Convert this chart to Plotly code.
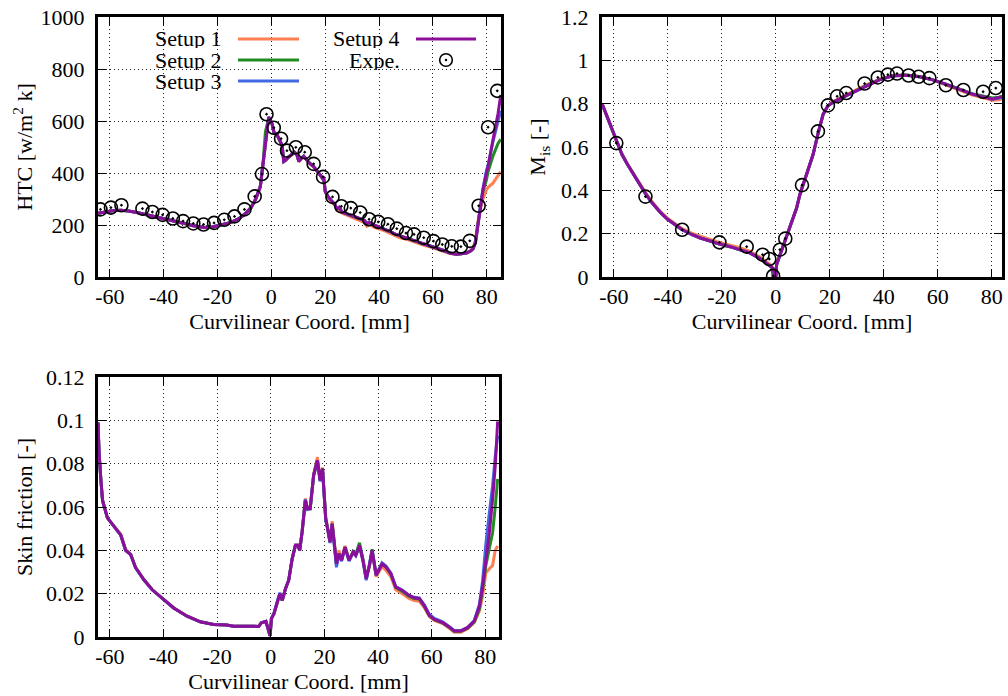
import plotly.graph_objects as go

# ---------------- data ----------------
x_ticks = [-60, -40, -20, 0, 20, 40, 60, 80]
x_ticktext = ["-60", "-40", "-20", "0", "20", "40", "60", "80"]
htc_ticks = [0, 200, 400, 600, 800, 1000]
mis_ticks = [0, 0.2, 0.4, 0.6, 0.8, 1.0, 1.2]
mis_ticktext = ["0", "0.2", "0.4", "0.6", "0.8", "1", "1.2"]
cf_ticks = [0, 0.02, 0.04, 0.06, 0.08, 0.1, 0.12]
cf_ticktext = ["0", "0.02", "0.04", "0.06", "0.08", "0.1", "0.12"]

setup_names = ["Setup 1", "Setup 2", "Setup 3", "Setup 4"]
setup_colors = ["#ff7f50", "#228b22", "#4169e1", "#8b0f9b"]

# HTC [W/m2 K]
htc_x = [-64.4, -62, -59, -56, -53, -50, -47, -44, -40.5, -37, -33, -29.4, -25, -22, -20,
         -17, -15, -12, -9.6, -7.5, -5.9, -4.1, -3, -2.2, -1.0, 0.25, 1, 2.1, 3.3, 4.0,
         4.6, 5.3, 6.4, 7.7, 8.6, 9.5, 10.2, 11.0, 12.0, 13.2, 14.0, 15.7, 17.0, 18.1, 19.0,
         19.4, 20.0, 21.0, 22.5, 23.5, 24.3, 25.2, 26.2, 27.5, 29.3, 31, 33, 34.5, 35.5, 36.5,
         38, 40.4, 42, 44.1, 46, 47.8, 50, 51.5, 53, 55.2, 57, 58.9, 61, 62.6, 64.5,
         66.3, 68.8, 70.5, 72.4, 74, 74.9, 75.8, 76.5, 77.4, 78.6, 79.9, 80.5, 82.3, 84.2, 85.2]
htc_s1 = [245, 250, 255, 257, 254, 248, 241, 234, 227, 218, 207, 197, 189, 191, 196,
          202, 209, 224, 243, 267, 297, 347, 440, 525, 612, 588, 553, 546, 518, 503,
          443, 448, 460, 470, 478, 468, 443, 453, 463, 448, 438, 423, 408, 391, 378,
          383, 328, 306, 287, 276, 258, 262, 246, 240, 230, 224, 216, 210, 195, 202,
          192, 183, 178, 168, 158, 151, 146, 140, 134, 127, 121, 116, 109, 104, 97,
          90, 87, 88, 92, 101, 112, 140, 200, 250, 300, 336, 345, 361, 393, 405]
htc_s2 = [245, 250, 255, 257, 254, 248, 241, 234, 228, 219, 208, 198, 190, 192, 197,
          203, 210, 225, 244, 268, 298, 350, 450, 560, 610, 590, 555, 548, 520, 505,
          445, 450, 462, 472, 480, 470, 445, 455, 465, 450, 440, 425, 410, 393, 380,
          385, 330, 310, 291, 280, 262, 268, 250, 245, 236, 230, 222, 218, 205, 210,
          200, 191, 185, 175, 165, 158, 152, 146, 140, 132, 126, 120, 113, 107, 100,
          92, 88, 89, 92, 100, 108, 135, 190, 250, 330, 374, 405, 465, 514, 530]
htc_s3 = [245, 250, 255, 257, 254, 248, 241, 234, 228, 219, 208, 198, 190, 192, 197,
          203, 210, 225, 244, 268, 298, 348, 440, 527, 616, 590, 555, 548, 520, 505,
          445, 450, 462, 472, 480, 470, 445, 455, 465, 450, 440, 425, 410, 393, 380,
          385, 330, 310, 291, 280, 262, 268, 250, 245, 236, 230, 222, 218, 205, 210,
          200, 191, 185, 175, 165, 158, 152, 146, 140, 132, 126, 120, 113, 107, 100,
          92, 88, 89, 92, 100, 108, 132, 185, 250, 340, 410, 430, 520, 600, 640]
htc_s4 = [245, 250, 255, 257, 254, 248, 241, 234, 228, 219, 208, 198, 190, 192, 197,
          203, 210, 225, 244, 268, 298, 348, 440, 527, 616, 590, 555, 548, 520, 505,
          445, 450, 462, 472, 480, 470, 445, 455, 465, 450, 440, 425, 410, 393, 380,
          385, 330, 310, 291, 280, 262, 268, 250, 245, 236, 230, 222, 218, 205, 210,
          200, 191, 185, 175, 165, 158, 152, 146, 140, 132, 126, 120, 113, 107, 100,
          92, 88, 89, 92, 100, 108, 130, 180, 247, 336, 400, 425, 527, 629, 700]
htc_exp_x = [-63.5, -59.6, -55.7, -47.9, -44.2, -40.4, -36.6, -32.8, -29.0, -25.2, -21.3,
             -17.5, -13.7, -10.0, -6.2, -3.5, -1.8, 0.9, 3.6, 5.8, 9.1, 12.4, 15.7, 19.2,
             22.7, 26.0, 29.5, 33.0, 36.3, 39.7, 43.3, 46.6, 50.0, 53.0, 56.6, 60.2, 63.5,
             67.0, 70.4, 73.7, 77.0, 80.5, 83.9]
htc_exp_y = [260, 267, 276, 263, 250, 239, 225, 215, 206, 202, 208, 220, 233, 260, 310, 396,
             626, 574, 532, 486, 499, 480, 435, 385, 308, 272, 265, 248, 222, 212, 203, 186,
             169, 164, 151, 138, 125, 118, 117, 139, 274, 576, 716]

# Isentropic Mach number
mis_x = [-64.4, -63, -61, -59.1, -57, -55, -52.6, -50, -48.3, -46, -42.8, -40, -37, -34.7,
         -31, -28, -24, -20.9, -17, -13.3, -10, -8.3, -6, -4.0, -2.8, -1.55, -1.0, -0.4,
         0.0, 0.3, 1.5, 2.7, 4.0, 5.2, 6.5, 7.7, 8.9, 9.7, 11.3, 12.5, 13.8, 15.6, 17.5,
         19.3, 21.2, 24.8, 28.6, 33.5, 38.4, 43.3, 48.2, 53.2, 58.1, 63, 67.9, 72.8,
         77.8, 80.2, 82.7, 83.8]
mis_s1 = [0.800, 0.757, 0.692, 0.628, 0.568, 0.523, 0.473, 0.424, 0.390, 0.350, 0.303,
          0.270, 0.243, 0.223, 0.201, 0.187, 0.172, 0.160, 0.148, 0.135, 0.121, 0.110,
          0.093, 0.075, 0.064, 0.052, 0.030, 0.0, 0.0, 0.058, 0.100, 0.142, 0.190, 0.234,
          0.276, 0.318, 0.380, 0.415, 0.470, 0.520, 0.565, 0.660, 0.752, 0.792, 0.810,
          0.833, 0.857, 0.887, 0.913, 0.930, 0.932, 0.925, 0.910, 0.888, 0.863, 0.840,
          0.824, 0.816, 0.818, 0.822]
mis_s2 = [0.800, 0.755, 0.690, 0.625, 0.565, 0.520, 0.470, 0.420, 0.385, 0.345, 0.298,
          0.265, 0.238, 0.218, 0.195, 0.180, 0.165, 0.152, 0.140, 0.127, 0.113, 0.102,
          0.086, 0.068, 0.058, 0.045, 0.0, 0.0, 0.0, 0.058, 0.100, 0.142, 0.190, 0.234,
          0.276, 0.318, 0.380, 0.412, 0.470, 0.520, 0.565, 0.660, 0.750, 0.790, 0.806,
          0.829, 0.853, 0.883, 0.911, 0.929, 0.932, 0.925, 0.911, 0.891, 0.868, 0.846,
          0.832, 0.826, 0.830, 0.834]
mis_s3 = [0.800, 0.755, 0.690, 0.625, 0.565, 0.520, 0.470, 0.420, 0.385, 0.345, 0.298,
          0.265, 0.238, 0.218, 0.195, 0.180, 0.165, 0.152, 0.140, 0.127, 0.113, 0.102,
          0.086, 0.068, 0.058, 0.048, 0.040, 0.0, 0.0, 0.058, 0.100, 0.142, 0.190, 0.234,
          0.276, 0.318, 0.380, 0.412, 0.470, 0.520, 0.565, 0.660, 0.750, 0.790, 0.806,
          0.829, 0.852, 0.882, 0.910, 0.928, 0.931, 0.924, 0.910, 0.890, 0.867, 0.844,
          0.829, 0.821, 0.826, 0.830]
mis_s4 = [0.800, 0.755, 0.690, 0.625, 0.565, 0.520, 0.470, 0.420, 0.385, 0.345, 0.298,
          0.265, 0.238, 0.218, 0.195, 0.180, 0.165, 0.152, 0.140, 0.127, 0.113, 0.102,
          0.086, 0.068, 0.058, 0.048, 0.040, 0.0, 0.0, 0.058, 0.100, 0.142, 0.190, 0.234,
          0.276, 0.318, 0.380, 0.412, 0.470, 0.520, 0.565, 0.660, 0.750, 0.790, 0.806,
          0.829, 0.852, 0.882, 0.910, 0.928, 0.931, 0.924, 0.910, 0.890, 0.867, 0.844,
          0.829, 0.821, 0.829, 0.833]
mis_exp_x = [-59.1, -48.3, -34.7, -20.9, -10.8, -4.9, -2.4, -1.0, 1.5, 3.5, 9.7, 15.6,
             19.3, 22.7, 26.1, 32.9, 37.8, 41.5, 44.9, 49.2, 52.9, 56.9, 63.0, 69.5,
             76.8, 81.5]
mis_exp_y = [0.618, 0.371, 0.218, 0.160, 0.140, 0.103, 0.083, 0.005, 0.126, 0.177, 0.424,
             0.672, 0.792, 0.834, 0.849, 0.893, 0.921, 0.934, 0.939, 0.930, 0.924, 0.918,
             0.885, 0.863, 0.855, 0.872]

# Skin friction
cf_x = [-64.4, -64.0, -63.3, -62.7, -60.9, -58.4, -55.9, -54.1, -52.2, -50.4, -47.3, -44.2,
        -39.9, -36.2, -31.2, -26.3, -21.3, -16.4, -13.9, -9.0, -4.5, -3.5, -1.8, -1.0,
        -0.25, 0.25, 1.2, 2.5, 3.4, 4.3, 5.5, 6.7, 8.0, 9.2, 10.1, 10.8, 11.7, 12.9, 13.7,
        14.7, 16.0, 17.4, 18.4, 19.3, 19.6, 20.5, 21.2, 22.1, 22.9, 23.9, 24.5, 25.4, 26.4,
        27.7, 29.2, 30.7, 31.7, 33.1, 34.4, 35.6, 36.8, 37.8, 39.3, 41.5, 43.0, 44.8,
        46.6, 49.1, 51.5, 53.5, 55.4, 57.3, 59.1, 61.0, 64.1, 66.6, 68.4, 70.9, 73.4,
        75.9, 77.8, 79.0, 80.2, 81.5, 82.7, 83.7, 84.6]
cf_s1 = [0.099, 0.085, 0.072, 0.063, 0.055, 0.0512, 0.0474, 0.0404, 0.0383, 0.0322, 0.0266,
         0.0219, 0.0174, 0.0135, 0.0097, 0.0071, 0.0058, 0.0055, 0.0050, 0.0049, 0.0049,
         0.0066, 0.0072, 0.0038, 0.0005, 0.0085, 0.0108, 0.0160, 0.0198, 0.0169, 0.0223,
         0.0262, 0.0362, 0.0423, 0.0425, 0.0402, 0.0487, 0.0640, 0.0595, 0.0594, 0.0752,
         0.0830, 0.0730, 0.0782, 0.0720, 0.0550, 0.0505, 0.0440, 0.0535, 0.0395, 0.0345,
         0.0400, 0.0358, 0.0420, 0.0356, 0.0390, 0.0378, 0.0418, 0.0352, 0.0268, 0.0325,
         0.0395, 0.0278, 0.0325, 0.0308, 0.0278, 0.0218, 0.0200, 0.0178, 0.0168, 0.0165,
         0.0135, 0.0095, 0.0077, 0.0062, 0.0040, 0.0022, 0.0022, 0.0038, 0.0068, 0.0120,
         0.0190, 0.0296, 0.0315, 0.0330, 0.0400, 0.0420]
cf_s2 = [0.099, 0.085, 0.072, 0.063, 0.055, 0.0508, 0.0470, 0.0400, 0.0380, 0.0320, 0.0264,
         0.0218, 0.0173, 0.0134, 0.0096, 0.0070, 0.0058, 0.0055, 0.0050, 0.0049, 0.0049,
         0.0066, 0.0072, 0.0038, 0.0005, 0.0085, 0.0108, 0.0162, 0.0200, 0.0169, 0.0223,
         0.0262, 0.0362, 0.0423, 0.0423, 0.0400, 0.0485, 0.0631, 0.0592, 0.0592, 0.0746,
         0.0815, 0.0723, 0.0777, 0.0715, 0.0546, 0.0500, 0.0438, 0.0523, 0.0392, 0.0338,
         0.0385, 0.0354, 0.0415, 0.0354, 0.0395, 0.0382, 0.0435, 0.0358, 0.0270, 0.0333,
         0.0405, 0.0287, 0.0338, 0.0322, 0.0290, 0.0228, 0.0210, 0.0188, 0.0178, 0.0175,
         0.0141, 0.0099, 0.0080, 0.0065, 0.0044, 0.0026, 0.0026, 0.0040, 0.0070, 0.0130,
         0.0220, 0.0330, 0.0410, 0.0480, 0.0600, 0.0730]
cf_s3 = [0.099, 0.085, 0.072, 0.063, 0.055, 0.0508, 0.0470, 0.0400, 0.0380, 0.0320, 0.0264,
         0.0218, 0.0173, 0.0134, 0.0096, 0.0070, 0.0058, 0.0055, 0.0050, 0.0049, 0.0049,
         0.0066, 0.0072, 0.0038, 0.0005, 0.0085, 0.0110, 0.0168, 0.0205, 0.0169, 0.0223,
         0.0262, 0.0362, 0.0423, 0.0423, 0.0400, 0.0485, 0.0635, 0.0588, 0.0592, 0.0746,
         0.0815, 0.0718, 0.0777, 0.0712, 0.0540, 0.0500, 0.0434, 0.0520, 0.0388, 0.0322,
         0.0380, 0.0350, 0.0412, 0.0350, 0.0390, 0.0375, 0.0420, 0.0350, 0.0262, 0.0330,
         0.0398, 0.0285, 0.0342, 0.0327, 0.0295, 0.0233, 0.0216, 0.0193, 0.0183, 0.0180,
         0.0147, 0.0105, 0.0086, 0.0070, 0.0048, 0.0030, 0.0030, 0.0045, 0.0076, 0.0150,
         0.0260, 0.0430, 0.0573, 0.0696, 0.0834, 0.0930]
cf_s4 = [0.099, 0.085, 0.072, 0.063, 0.055, 0.0508, 0.0470, 0.0400, 0.0380, 0.0320, 0.0264,
         0.0218, 0.0173, 0.0134, 0.0096, 0.0070, 0.0058, 0.0055, 0.0050, 0.0049, 0.0049,
         0.0066, 0.0072, 0.0038, 0.0005, 0.0085, 0.0108, 0.0162, 0.0200, 0.0169, 0.0223,
         0.0262, 0.0362, 0.0423, 0.0423, 0.0400, 0.0485, 0.0631, 0.0592, 0.0592, 0.0746,
         0.0815, 0.0723, 0.0777, 0.0715, 0.0546, 0.0500, 0.0438, 0.0523, 0.0392, 0.0338,
         0.0385, 0.0354, 0.0415, 0.0354, 0.0392, 0.0377, 0.0423, 0.0354, 0.0269, 0.0331,
         0.0400, 0.0285, 0.0338, 0.0323, 0.0292, 0.0231, 0.0215, 0.0192, 0.0181, 0.0177,
         0.0143, 0.0100, 0.0081, 0.0066, 0.0046, 0.0028, 0.0028, 0.0043, 0.0074, 0.0143,
         0.0235, 0.0358, 0.0480, 0.0634, 0.0788, 0.0995]

# ---------------- figure ----------------
W, H = 1008, 696
FONT = "Liberation Serif"
FS = 22
LW = 3


def px(x):
    return x / W


def py(y):
    return 1 - y / H


fig = go.Figure()

panels = [
    ("x", "y", htc_x, [htc_s1, htc_s2, htc_s3, htc_s4], htc_exp_x, htc_exp_y),
    ("x2", "y2", mis_x, [mis_s1, mis_s2, mis_s3, mis_s4], mis_exp_x, mis_exp_y),
    ("x3", "y3", cf_x, [cf_s1, cf_s2, cf_s3, cf_s4], None, None),
]
for xa, ya, xs, ys_list, ex, ey in panels:
    for name, col, ys in zip(setup_names, setup_colors, ys_list):
        fig.add_trace(go.Scatter(x=xs, y=ys, mode="lines", name=name, xaxis=xa, yaxis=ya,
                                 line=dict(color=col, width=LW), showlegend=False))
    if ex is not None:
        fig.add_trace(go.Scatter(x=ex, y=ey, mode="markers", name="Expe.", xaxis=xa, yaxis=ya,
                                 marker=dict(symbol="circle-open-dot", size=13, color="black",
                                             line=dict(width=1.6, color="black")),
                                 showlegend=False))

axis_common = dict(showline=True, linewidth=3, linecolor="black", mirror="ticks",
                   ticks="inside", ticklen=8, tickwidth=1.2, tickcolor="black",
                   showgrid=True, gridcolor="#222", gridwidth=1, griddash="1px,3px",
                   zeroline=False, automargin=False,
                   tickfont=dict(family=FONT, size=FS, color="black"))
xaxis_common = dict(axis_common, ticklabelstandoff=-2)
yaxis_common = dict(axis_common, ticklabelstandoff=6)
title_font = dict(family=FONT, size=FS, color="black")

fig.update_layout(
    template="none",
    width=W, height=H, margin=dict(l=0, r=0, t=0, b=0, pad=0),
    paper_bgcolor="white", plot_bgcolor="white",
    font=dict(family=FONT, size=FS, color="black"),
    xaxis=dict(xaxis_common, domain=[px(98), px(501)], anchor="y", range=[-64.4, 85.3],
               tickvals=x_ticks, ticktext=x_ticktext,
               title=dict(text="Curvilinear Coord. [mm]", font=title_font, standoff=4)),
    yaxis=dict(yaxis_common, domain=[py(277), py(17)], anchor="x", range=[0, 1000],
               tickvals=htc_ticks,
               title=dict(text="HTC [w/m<sup>2</sup> k]", font=title_font, standoff=2)),
    xaxis2=dict(xaxis_common, domain=[px(602), px(1002)], anchor="y2", range=[-64.4, 83.8],
                tickvals=x_ticks, ticktext=x_ticktext,
                title=dict(text="Curvilinear Coord. [mm]", font=title_font, standoff=4)),
    yaxis2=dict(yaxis_common, domain=[py(277), py(17)], anchor="x2", range=[0, 1.2],
                tickvals=mis_ticks, ticktext=mis_ticktext,
                title=dict(text="M<sub>is</sub> [-]", font=title_font, standoff=10)),
    xaxis3=dict(xaxis_common, domain=[px(98), px(499)], anchor="y3", range=[-64.4, 85.1],
                tickvals=x_ticks, ticktext=x_ticktext,
                title=dict(text="Curvilinear Coord. [mm]", font=title_font, standoff=4)),
    yaxis3=dict(yaxis_common, domain=[py(637), py(377)], anchor="x3", range=[0, 0.12],
                tickvals=cf_ticks, ticktext=cf_ticktext,
                title=dict(text="Skin friction [-]", font=title_font, standoff=8)),
)

# ---------------- custom legend (gnuplot style, opaque key box) ----------------
shapes = []
annotations = []
shapes.append(dict(type="rect", xref="paper", yref="paper", layer="between",
                   x0=px(135), x1=px(499), y0=py(70), y1=py(18),
                   fillcolor="white", line=dict(width=0)))
shapes.append(dict(type="rect", xref="paper", yref="paper", layer="between",
                   x0=px(135), x1=px(470), y0=py(91), y1=py(70),
                   fillcolor="white", line=dict(width=0)))

legend_rows = [
    (setup_names[0], setup_colors[0], 223, 238, 299, 39),
    (setup_names[1], setup_colors[1], 223, 238, 299, 60),
    (setup_names[2], setup_colors[2], 223, 238, 299, 81),
    (setup_names[3], setup_colors[3], 401, 416, 476, 39),
]
for name, col, tx, lx0, lx1, yy in legend_rows:
    annotations.append(dict(xref="paper", yref="paper", x=px(tx), y=py(yy), text=name,
                            showarrow=False, xanchor="right", yanchor="middle",
                            height=19, borderpad=0,
                            font=dict(family=FONT, size=FS, color="black")))
    shapes.append(dict(type="line", xref="paper", yref="paper", x0=px(lx0), x1=px(lx1),
                       y0=py(yy), y1=py(yy), line=dict(color=col, width=LW)))
annotations.append(dict(xref="paper", yref="paper", x=px(401), y=py(60), text="Expe.",
                        showarrow=False, xanchor="right", yanchor="middle",
                        height=19, borderpad=0,
                        font=dict(family=FONT, size=FS, color="black")))
shapes.append(dict(type="circle", xref="paper", yref="paper",
                   x0=px(446 - 6.3), x1=px(446 + 6.3), y0=py(60 + 6.3), y1=py(60 - 6.3),
                   line=dict(color="black", width=1.6)))
shapes.append(dict(type="circle", xref="paper", yref="paper",
                   x0=px(446 - 1.2), x1=px(446 + 1.2), y0=py(60 + 1.2), y1=py(60 - 1.2),
                   fillcolor="black", line=dict(color="black", width=0)))

fig.update_layout(shapes=shapes, annotations=annotations)
fig.write_html("out.html", config={"displayModeBar": False},
               post_script="document.body.style.margin='0';document.body.style.padding='0';")
